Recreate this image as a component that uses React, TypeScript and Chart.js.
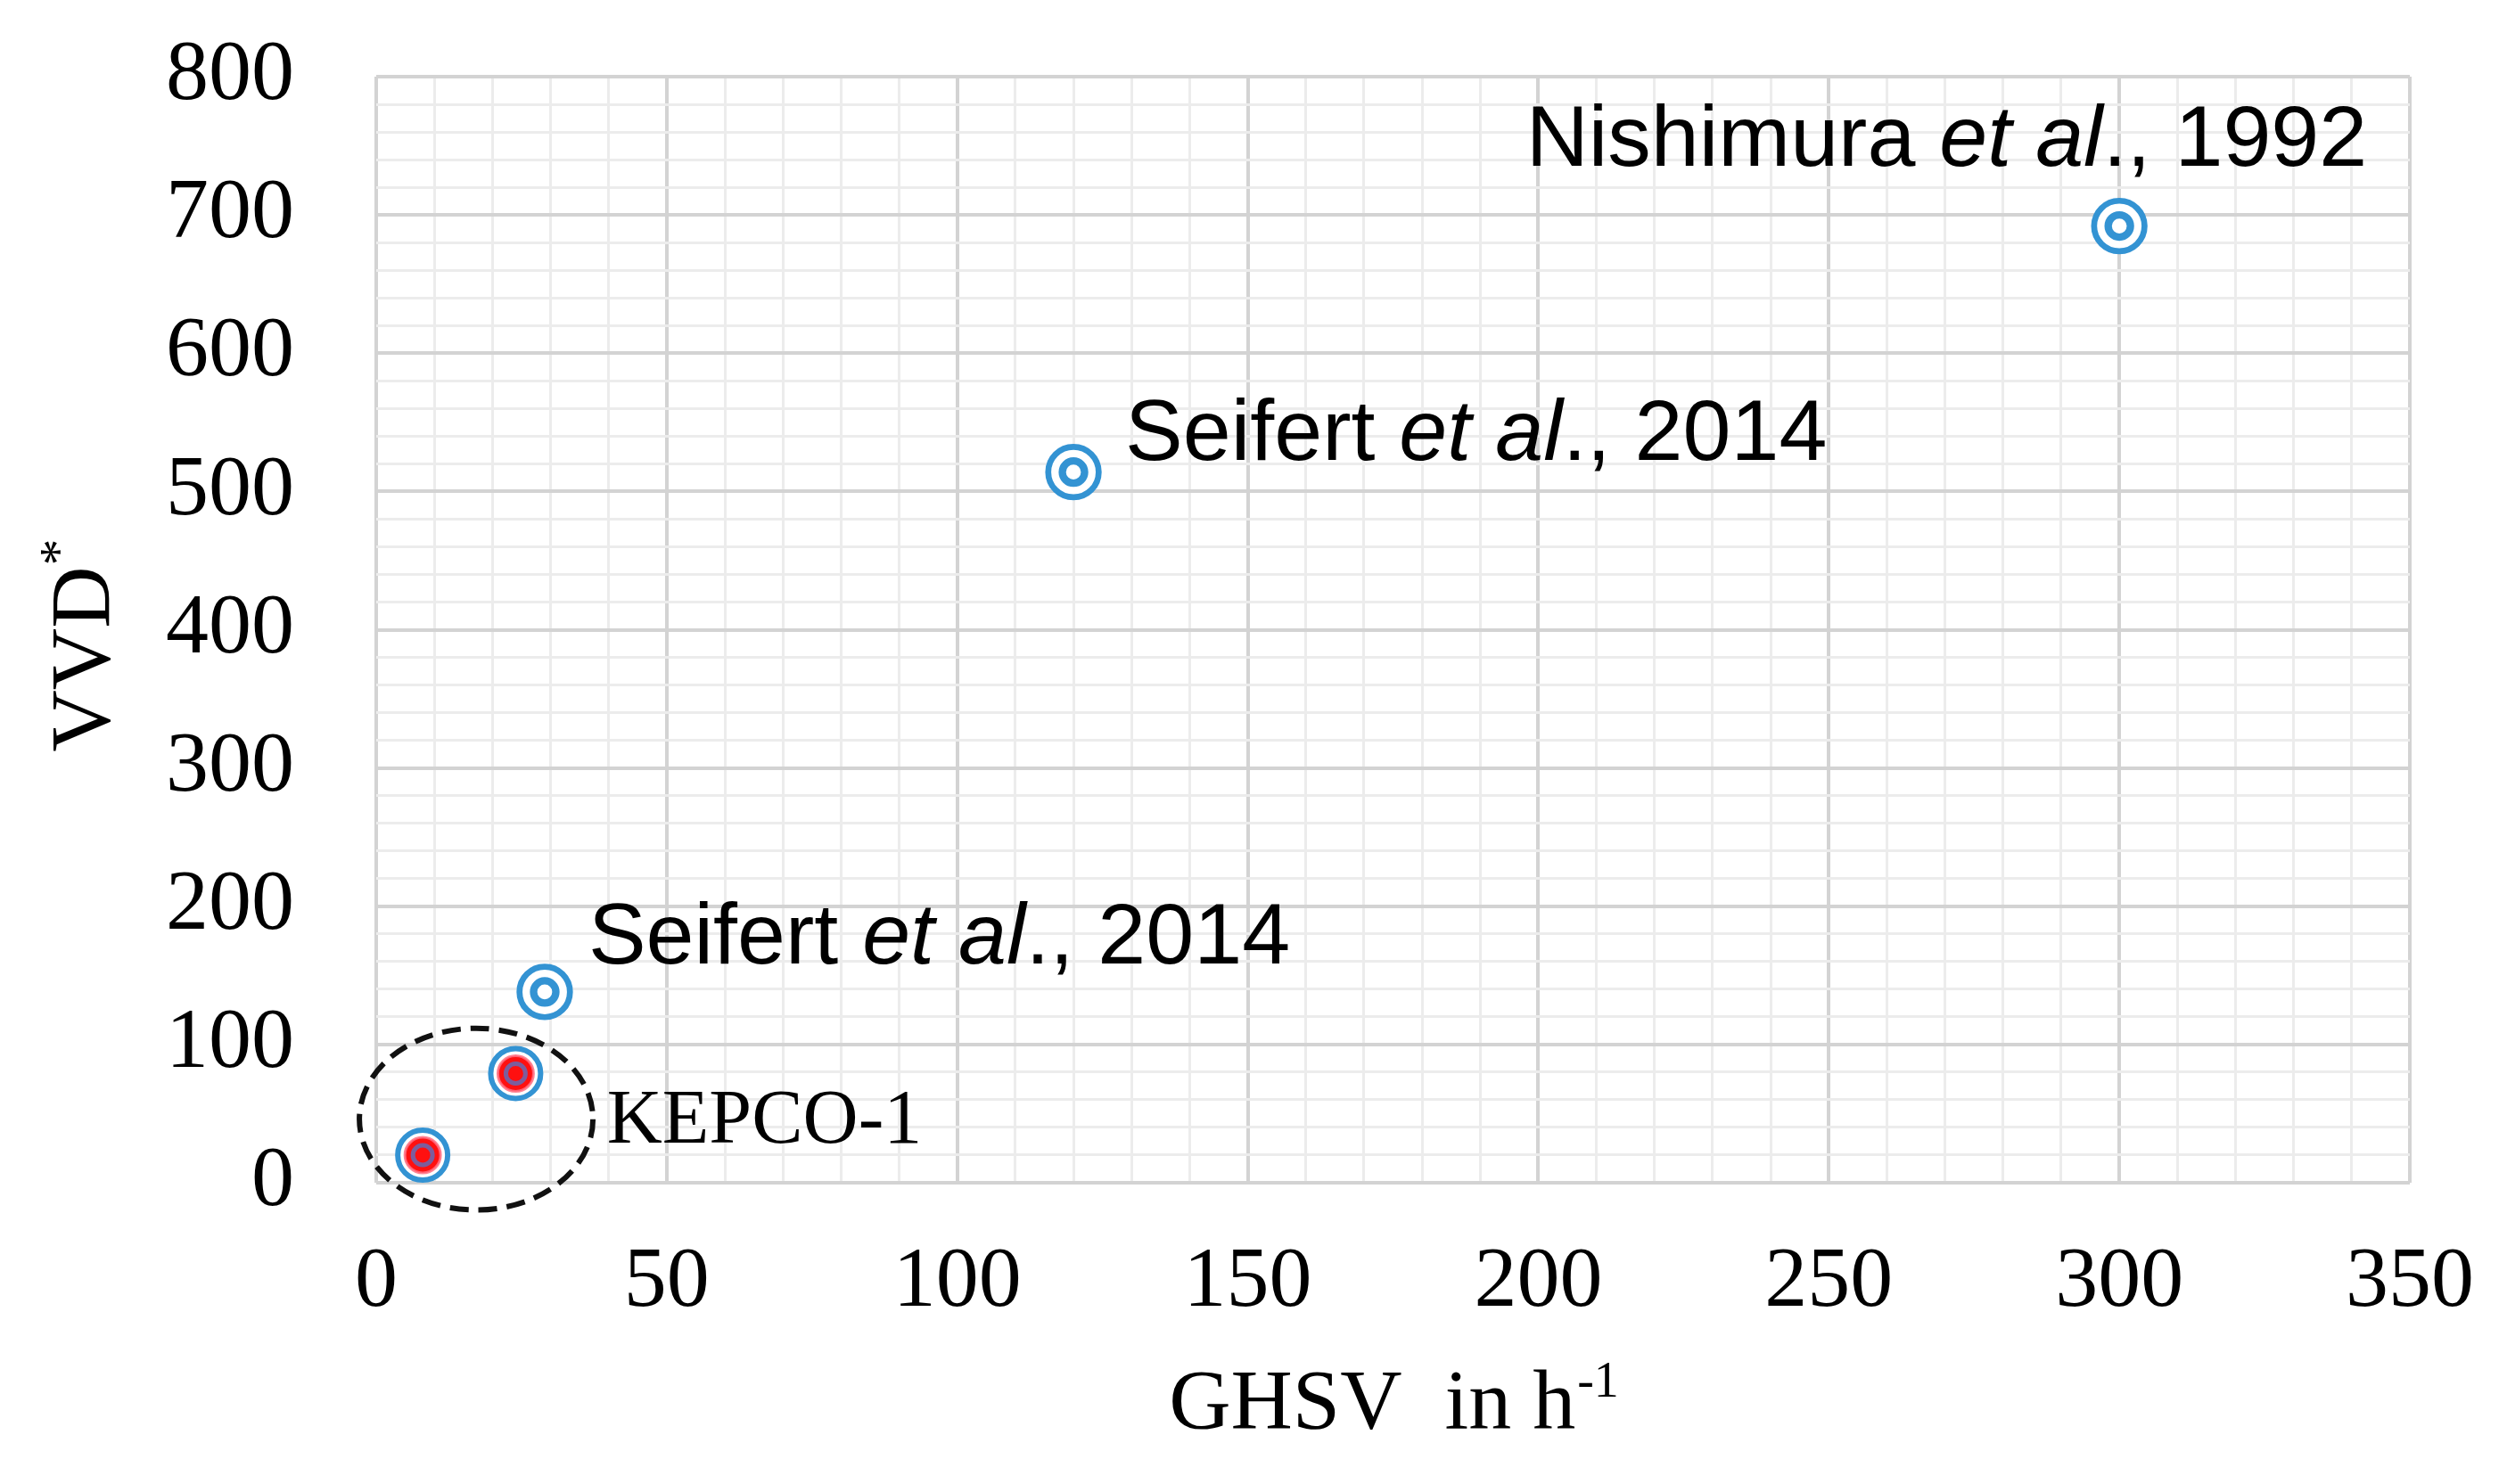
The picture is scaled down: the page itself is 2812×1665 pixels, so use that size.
import React, { useEffect, useRef } from "react";
import { Chart, registerables } from "chart.js";

Chart.register(...registerables);

// ---- data ----
const literatureGHSV = [29, 120, 300];
const literatureVVD = [138, 514, 692];
const kepcoGHSV = [8, 24];
const kepcoVVD = [20, 79];

// axis ranges and tick steps
const xMin = 0;
const xMax = 350;
const xMajorStep = 50;
const xMinorStep = 10;
const yMin = 0;
const yMax = 800;
const yMajorStep = 100;
const yMinorStep = 20;

// annotation texts: [text, italic]
const labelNishimura: [string, boolean][] = [["Nishimura ", false], ["et al", true], ["., 1992", false]];
const labelSeifertHigh: [string, boolean][] = [["Seifert ", false], ["et al", true], ["., 2014", false]];
const labelSeifertLow: [string, boolean][] = [["Seifert ", false], ["et al", true], ["., 2014", false]];
const annotationLabels = [labelNishimura, labelSeifertHigh, labelSeifertLow];
// label anchors (left / baseline) in data units
const annotationX = [197.9, 128.9, 36.5];
const annotationY = [735.6, 523, 158.5];

const kepcoLabel = "KEPCO-1";
const kepcoLabelX = 39.7;
const kepcoLabelY = 29;
// dashed group ellipse in data units
const groupCenterX = 17.2;
const groupCenterY = 46;
const groupRadiusX = 20.1;
const groupRadiusY = 65.7;

const xTitleMain = "GHSV  in h";
const xTitleSup = "-1";
const yTitleMain = "VVD";
const yTitleSup = "*";

const BLUE = "#3393d3";
const RED = "#ff1010";
const PURPLE = "#7d5d9c";
const SERIF = "'Liberation Serif', 'Times New Roman', serif";
const SANS = "'Liberation Sans', Arial, sans-serif";

const toPts = (xs: number[], ys: number[]) => xs.map((x, i) => ({ x, y: ys[i] }));

const overlayPlugin = {
  id: "overlay",
  afterDatasetsDraw(chart: any) {
    const { ctx, scales } = chart;
    const x = scales.x;
    const y = scales.y;
    // dashed ellipse around KEPCO-1 points
    const cx = x.getPixelForValue(groupCenterX);
    const cy = y.getPixelForValue(groupCenterY);
    const rx = x.getPixelForValue(groupCenterX + groupRadiusX) - cx;
    const ry = cy - y.getPixelForValue(groupCenterY + groupRadiusY);
    ctx.save();
    ctx.setLineDash([21, 11]);
    ctx.lineWidth = 6;
    ctx.strokeStyle = "#111111";
    ctx.beginPath();
    ctx.ellipse(cx, cy, rx, ry, 0, 0, Math.PI * 2);
    ctx.stroke();
    ctx.restore();

    // literature annotations
    ctx.save();
    ctx.fillStyle = "#000000";
    ctx.textBaseline = "alphabetic";
    ctx.textAlign = "left";
    annotationLabels.forEach((segs, i) => {
      let px = x.getPixelForValue(annotationX[i]);
      const py = y.getPixelForValue(annotationY[i]);
      segs.forEach(([t, it]) => {
        ctx.font = `${it ? "italic " : ""}97px ${SANS}`;
        ctx.fillText(t, px, py);
        px += ctx.measureText(t).width;
      });
    });
    // KEPCO label
    ctx.font = `86px ${SERIF}`;
    ctx.fillText(kepcoLabel, x.getPixelForValue(kepcoLabelX), y.getPixelForValue(kepcoLabelY));
    ctx.restore();
  },
  afterDraw(chart: any) {
    const { ctx, chartArea } = chart;
    ctx.save();
    ctx.fillStyle = "#000000";
    ctx.textBaseline = "alphabetic";
    ctx.textAlign = "left";
    // x title
    ctx.font = `96px ${SERIF}`;
    const wMain = ctx.measureText(xTitleMain).width;
    ctx.font = `56px ${SERIF}`;
    const wSup = ctx.measureText(xTitleSup).width;
    const xc = (chartArea.left + chartArea.right) / 2;
    const startX = xc - (wMain + wSup) / 2;
    const baseX = chartArea.bottom + 276;
    ctx.font = `96px ${SERIF}`;
    ctx.fillText(xTitleMain, startX, baseX);
    ctx.font = `56px ${SERIF}`;
    ctx.fillText(xTitleSup, startX + wMain + 2, baseX - 36);

    // y title (rotated)
    ctx.font = `96px ${SERIF}`;
    const wY = ctx.measureText(yTitleMain).width;
    ctx.font = `60px ${SERIF}`;
    const wYs = ctx.measureText(yTitleSup).width;
    const yc = (chartArea.top + chartArea.bottom) / 2 + 18;
    ctx.translate(123, yc + (wY + wYs) / 2);
    ctx.rotate(-Math.PI / 2);
    ctx.font = `96px ${SERIF}`;
    ctx.fillText(yTitleMain, 0, 0);
    ctx.font = `60px ${SERIF}`;
    ctx.fillText(yTitleSup, wY + 1, -38);
    ctx.restore();
  },
};

export default function App() {
  const canvasRef = useRef<HTMLCanvasElement | null>(null);

  useEffect(() => {
    if (!canvasRef.current) return;
    const lit = toPts(literatureGHSV, literatureVVD);
    const kep = toPts(kepcoGHSV, kepcoVVD);
    const gridColor = (step: number) => (c: any) =>
      c.tick && Math.abs(c.tick.value % step) < 1e-6 ? "#d3d3d3" : "#ececec";
    const gridWidth = (step: number) => (c: any) =>
      c.tick && Math.abs(c.tick.value % step) < 1e-6 ? 4 : 3;

    const chart = new Chart(canvasRef.current, {
      type: "scatter",
      data: {
        datasets: [
          {
            label: "Literature outer",
            data: lit,
            pointRadius: 28.3,
            pointBorderWidth: 6.7,
            pointBorderColor: BLUE,
            pointBackgroundColor: "#ffffff",
            order: 6,
          },
          {
            label: "Literature inner",
            data: lit,
            pointRadius: 12.5,
            pointBorderWidth: 8.3,
            pointBorderColor: BLUE,
            pointBackgroundColor: "#ffffff",
            order: 5,
          },
          {
            label: "KEPCO-1 outer",
            data: kep,
            pointRadius: 28,
            pointBorderWidth: 6,
            pointBorderColor: BLUE,
            pointBackgroundColor: "#ffffff",
            order: 4,
          },
          {
            label: "KEPCO-1 disk",
            data: kep,
            pointRadius: 20,
            pointBorderWidth: 3,
            pointBorderColor: "rgba(255,110,130,0.85)",
            pointBackgroundColor: RED,
            order: 3,
          },
          {
            label: "KEPCO-1 core",
            data: kep,
            pointRadius: 11,
            pointBorderWidth: 5,
            pointBorderColor: PURPLE,
            pointBackgroundColor: RED,
            order: 2,
          },
        ] as any,
      },
      options: {
        animation: false,
        responsive: false,
        events: [],
        layout: { padding: { top: 86, right: 109, left: 0, bottom: 0 } },
        plugins: { legend: { display: false }, tooltip: { enabled: false } },
        elements: { point: { hoverRadius: 0 } },
        datasets: { scatter: { clip: false } as any },
        scales: {
          x: {
            type: "linear",
            min: xMin,
            max: xMax,
            border: { display: false },
            grid: { color: gridColor(xMajorStep), lineWidth: gridWidth(xMajorStep), drawTicks: false },
            ticks: {
              stepSize: xMinorStep,
              autoSkip: false,
              maxRotation: 0,
              padding: 55,
              color: "#000000",
              font: { family: SERIF, size: 96 },
              callback: (v: any) => (Math.abs(Number(v) % xMajorStep) < 1e-6 ? String(v) : ""),
            },
            afterFit: (s: any) => {
              s.height = 338;
              s.paddingLeft = 0;
              s.paddingRight = 0;
            },
          },
          y: {
            type: "linear",
            min: yMin,
            max: yMax,
            border: { display: false },
            grid: { color: gridColor(yMajorStep), lineWidth: gridWidth(yMajorStep), drawTicks: false },
            ticks: {
              stepSize: yMinorStep,
              autoSkip: false,
              padding: 92,
              color: "#000000",
              font: { family: SERIF, size: 96 },
              callback: (v: any) => (Math.abs(Number(v) % yMajorStep) < 1e-6 ? String(v) : ""),
            },
            afterFit: (s: any) => {
              s.width = 422;
              s.paddingTop = 0;
              s.paddingBottom = 0;
            },
          },
        },
      } as any,
      plugins: [overlayPlugin],
    });
    return () => chart.destroy();
  }, []);

  return (
    <div style={{ position: "absolute", left: 0, top: 0, width: 2812, height: 1665, background: "#ffffff" }}>
      <canvas ref={canvasRef} width={2812} height={1665} style={{ display: "block" }} />
    </div>
  );
}
